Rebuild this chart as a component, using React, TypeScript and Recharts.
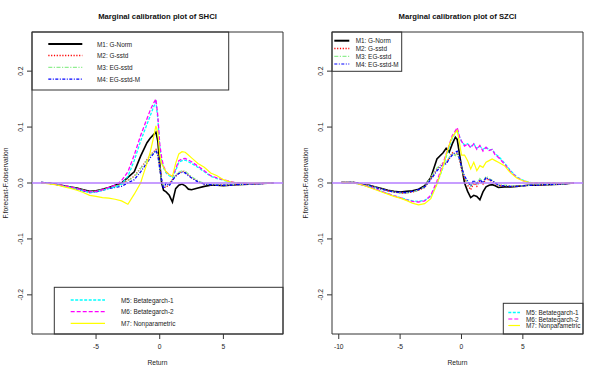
import React from 'react';
import { LineChart, Line, XAxis, YAxis, ReferenceLine, ReferenceArea } from 'recharts';

const FONT = '"Liberation Sans", Arial, Helvetica, sans-serif';

// ---------- SHCI (left panel) ----------
const SHCI_RETURN = [-9.3, -8.5, -8, -7.5, -7, -6.5, -6, -5.5, -5, -4.5, -4, -3.5, -3, -2.5, -2, -1.5, -1.25, -1, -0.75, -0.5, -0.3, -0.15, 0, 0.15, 0.3, 0.5, 0.75, 1, 1.25, 1.5, 1.75, 2, 2.25, 2.5, 3, 3.5, 4, 4.5, 5, 5.5, 6, 7, 8, 8.95];
const SHCI_M1 = [0.001, -0.001, -0.003, -0.005, -0.007, -0.009, -0.012, -0.015, -0.014, -0.011, -0.008, -0.004, 0.0, 0.01, 0.02, 0.048, 0.06, 0.072, 0.08, 0.086, 0.091, 0.075, 0.035, 0.0, -0.013, -0.016, -0.022, -0.034, -0.01, -0.004, -0.002, -0.005, -0.011, -0.012, -0.009, -0.006, -0.004, -0.004, -0.005, -0.004, -0.003, -0.002, -0.001, 0.0];
const SHCI_M2 = [0.001, -0.001, -0.003, -0.005, -0.008, -0.01, -0.013, -0.016, -0.015, -0.012, -0.009, -0.005, -0.002, 0.005, 0.012, 0.027, 0.034, 0.042, 0.05, 0.055, 0.06, 0.052, 0.03, 0.005, -0.006, -0.008, -0.002, 0.006, 0.013, 0.018, 0.021, 0.02, 0.015, 0.01, 0.003, -0.002, -0.003, -0.003, -0.004, -0.004, -0.003, -0.002, -0.001, 0.0];
const SHCI_M3 = [0.001, -0.001, -0.003, -0.005, -0.008, -0.01, -0.013, -0.016, -0.015, -0.012, -0.009, -0.006, -0.003, 0.004, 0.011, 0.026, 0.033, 0.041, 0.049, 0.054, 0.058, 0.05, 0.028, 0.004, -0.005, -0.006, -0.001, 0.007, 0.014, 0.019, 0.022, 0.021, 0.016, 0.011, 0.004, -0.001, -0.003, -0.003, -0.004, -0.003, -0.003, -0.002, -0.001, 0.0];
const SHCI_M4 = [0.001, -0.001, -0.003, -0.006, -0.008, -0.011, -0.014, -0.017, -0.016, -0.013, -0.01, -0.008, -0.006, 0.0, 0.006, 0.02, 0.028, 0.036, 0.045, 0.052, 0.058, 0.05, 0.025, 0.006, -0.01, 0.0, -0.005, 0.005, 0.012, 0.017, 0.019, 0.018, 0.013, 0.009, 0.002, -0.002, -0.003, -0.004, -0.004, -0.004, -0.003, -0.002, -0.001, 0.0];
const SHCI_M5 = [0.001, -0.001, -0.003, -0.006, -0.008, -0.011, -0.014, -0.017, -0.016, -0.013, -0.01, -0.007, -0.002, 0.012, 0.04, 0.075, 0.09, 0.105, 0.12, 0.135, 0.145, 0.115, 0.065, 0.04, 0.027, 0.018, 0.013, 0.01, 0.022, 0.037, 0.04, 0.041, 0.038, 0.035, 0.028, 0.02, 0.012, 0.008, 0.005, 0.002, 0.0, -0.001, -0.001, 0.0];
const SHCI_M6 = [0.001, -0.001, -0.003, -0.005, -0.007, -0.01, -0.013, -0.016, -0.015, -0.012, -0.008, -0.004, 0.004, 0.02, 0.05, 0.085, 0.1, 0.115, 0.13, 0.142, 0.15, 0.12, 0.07, 0.045, 0.03, 0.02, 0.015, 0.012, 0.025, 0.04, 0.043, 0.044, 0.041, 0.038, 0.03, 0.022, 0.013, 0.009, 0.006, 0.003, 0.0, -0.001, -0.001, 0.0];
const SHCI_M7 = [0.0, -0.002, -0.004, -0.007, -0.0095, -0.013, -0.017, -0.022, -0.024, -0.026, -0.027, -0.029, -0.032, -0.038, -0.02, 0.0, 0.018, 0.035, 0.055, 0.08, 0.102, 0.09, 0.05, 0.035, 0.028, 0.02, 0.015, 0.012, 0.035, 0.052, 0.056, 0.055, 0.05, 0.045, 0.035, 0.028, 0.018, 0.013, 0.006, 0.002, 0.0, 0.0, 0.0, 0.0];

// ---------- SZCI (right panel) ----------
const SZCI_RETURN = [-9.78, -8.7, -8, -7.5, -7, -6.5, -6, -5.5, -5, -4.5, -4, -3.5, -3, -2.5, -2, -1.5, -1.25, -1, -0.75, -0.5, -0.35, -0.15, 0, 0.25, 0.5, 0.75, 1, 1.25, 1.5, 1.75, 2, 2.25, 2.5, 2.75, 3, 3.5, 4, 4.5, 5, 5.5, 6, 7, 8, 9.15];
const SZCI_M1 = [0.001, 0.001, -0.003, -0.004, -0.007, -0.01, -0.013, -0.015, -0.016, -0.015, -0.014, -0.011, -0.005, 0.01, 0.043, 0.054, 0.062, 0.055, 0.07, 0.082, 0.078, 0.05, 0.03, 0.0, -0.015, -0.026, -0.022, -0.024, -0.03, -0.016, -0.007, -0.004, -0.003, -0.005, -0.008, -0.007, -0.007, -0.006, -0.005, -0.004, -0.004, -0.003, -0.002, 0.0];
const SZCI_M2 = [0.001, 0.001, -0.003, -0.005, -0.008, -0.011, -0.014, -0.016, -0.018, -0.018, -0.016, -0.013, -0.008, 0.008, 0.025, 0.036, 0.035, 0.045, 0.054, 0.05, 0.055, 0.04, 0.025, 0.008, -0.004, -0.012, 0.0, -0.006, 0.004, -0.002, 0.008, 0.005, 0.003, -0.001, -0.004, -0.005, -0.006, -0.006, -0.005, -0.004, -0.004, -0.003, -0.002, 0.0];
const SZCI_M3 = [0.001, 0.001, -0.003, -0.005, -0.008, -0.011, -0.014, -0.016, -0.018, -0.018, -0.016, -0.013, -0.007, 0.01, 0.027, 0.035, 0.037, 0.046, 0.052, 0.049, 0.054, 0.041, 0.026, 0.01, 0.0, -0.006, 0.004, -0.002, 0.008, 0.002, 0.012, 0.008, 0.005, 0.001, -0.003, -0.004, -0.005, -0.005, -0.005, -0.004, -0.003, -0.003, -0.002, 0.0];
const SZCI_M4 = [0.001, 0.001, -0.003, -0.005, -0.008, -0.011, -0.014, -0.016, -0.017, -0.017, -0.015, -0.012, -0.007, 0.006, 0.022, 0.033, 0.034, 0.043, 0.05, 0.055, 0.057, 0.043, 0.028, 0.012, 0.004, -0.005, 0.005, -0.001, 0.006, 0.0, 0.01, 0.006, 0.004, 0.0, -0.004, -0.005, -0.006, -0.006, -0.005, -0.004, -0.004, -0.003, -0.002, 0.0];
const SZCI_M5 = [0.001, 0.0, -0.004, -0.007, -0.011, -0.015, -0.019, -0.023, -0.026, -0.029, -0.032, -0.033, -0.031, -0.024, -0.002, 0.028, 0.047, 0.064, 0.08, 0.09, 0.095, 0.082, 0.074, 0.068, 0.07, 0.065, 0.07, 0.062, 0.066, 0.06, 0.064, 0.059, 0.06, 0.052, 0.048, 0.036, 0.022, 0.011, 0.005, 0.001, 0.0, 0.0, -0.001, 0.0];
const SZCI_M6 = [0.001, 0.0, -0.004, -0.007, -0.011, -0.015, -0.019, -0.023, -0.026, -0.03, -0.033, -0.034, -0.032, -0.022, 0.003, 0.035, 0.052, 0.068, 0.085, 0.093, 0.099, 0.082, 0.075, 0.066, 0.07, 0.063, 0.07, 0.06, 0.067, 0.057, 0.064, 0.058, 0.06, 0.05, 0.046, 0.034, 0.02, 0.01, 0.004, 0.001, 0.0, 0.0, -0.001, 0.0];
const SZCI_M7 = [0.001, 0.0, -0.004, -0.008, -0.012, -0.016, -0.02, -0.024, -0.027, -0.031, -0.036, -0.039, -0.037, -0.028, -0.002, 0.03, 0.05, 0.068, 0.082, 0.09, 0.094, 0.07, 0.05, 0.05, 0.04, 0.025, 0.037, 0.022, 0.031, 0.028, 0.037, 0.04, 0.043, 0.04, 0.037, 0.031, 0.018, 0.009, 0.004, 0.001, 0.0, 0.0, 0.0, 0.0];

const Y_TICKS = [-0.2, -0.1, 0, 0.1, 0.2];
const SHCI_X_TICKS = [-5, 0, 5];
const SZCI_X_TICKS = [-10, -5, 0, 5];

const SERIES_NAMES = ['M1: G-Norm', 'M2: G-sstd', 'M3: EG-sstd', 'M4: EG-sstd-M', 'M5: Betategarch-1', 'M6: Betategarch-2', 'M7: Nonparametric'];
const KEYS = ['m1', 'm2', 'm3', 'm4', 'm5', 'm6', 'm7'];

const STYLES = [
  { color: '#000000', dash: undefined as string | undefined, width: 1.6, legendWidth: 2 },
  { color: '#ff0000', dash: '1.2 1.6', width: 1.3, legendWidth: 1.5 },
  { color: '#90ee90', dash: '4 1.5 1.2 1.5', width: 1.3, legendWidth: 1.2 },
  { color: '#0000ff', dash: '3 1.5 1 1.5', width: 1.3, legendWidth: 1.2 },
  { color: '#00ffff', dash: '3 1.5', width: 1.3, legendWidth: 1.5 },
  { color: '#ff00ff', dash: '4 2', width: 1.3, legendWidth: 1.2 },
  { color: '#ffff00', dash: undefined as string | undefined, width: 1.2, legendWidth: 1.2 },
];

const FS = 6.7;
const LEGEND_FS = 6.4;

const buildRows = (xs: number[], series: number[][]) =>
  xs.map((x, i) => {
    const row: Record<string, number> = { x };
    series.forEach((s, j) => {
      row[KEYS[j]] = s[i];
    });
    return row;
  });

const YTick = (props: any) => {
  const { x, y, payload } = props;
  const cx = x - 4.5;
  return (
    <text x={cx} y={y} transform={`rotate(-90 ${cx} ${y})`} textAnchor="middle" dominantBaseline="central" fontSize={FS} fill="#222" fontFamily={FONT}>
      {Number(payload.value).toFixed(1)}
    </text>
  );
};

const XTick = (props: any) => {
  const { x, y, payload } = props;
  return (
    <text x={x} y={y + 5.5} textAnchor="middle" dominantBaseline="central" fontSize={FS} fill="#222" fontFamily={FONT}>
      {String(payload.value)}
    </text>
  );
};

type LegendGroup = {
  items: number[];
  box: [number, number, number, number];
  rows: number[];
  sample: [number, number];
  textX: number;
};

type PanelProps = {
  title: string;
  xs: number[];
  series: number[][];
  xDomain: [number, number];
  xTicks: number[];
  legends: LegendGroup[];
};

const Y_DOMAIN: [number, number] = [-0.27, 0.27];

const Panel = ({ title, xs, series, xDomain, xTicks, legends }: PanelProps) => {
  const rows = buildRows(xs, series);
  return (
    <div style={{ position: 'relative', width: 300, height: 375 }}>
      <LineChart width={300} height={375} data={rows} margin={{ top: 32, right: 17, bottom: 0, left: 0 }}>
        <XAxis
          type="number"
          dataKey="x"
          domain={xDomain}
          allowDataOverflow
          ticks={xTicks}
          interval={0}
          height={41}
          tickSize={5}
          tickMargin={2}
          axisLine={false}
          tickLine={{ stroke: '#333', strokeWidth: 1 }}
          tick={<XTick />}
        />
        <YAxis
          type="number"
          domain={Y_DOMAIN}
          allowDataOverflow
          ticks={Y_TICKS}
          interval={0}
          width={32}
          tickSize={5}
          tickMargin={2}
          axisLine={false}
          tickLine={{ stroke: '#333', strokeWidth: 1 }}
          tick={<YTick />}
        />
        {KEYS.map((k, j) => (
          <Line
            key={k}
            type="linear"
            dataKey={k}
            stroke={STYLES[j].color}
            strokeWidth={STYLES[j].width}
            strokeDasharray={STYLES[j].dash}
            dot={false}
            activeDot={false}
            isAnimationActive={false}
          />
        ))}
        <ReferenceLine y={0} stroke="#b57cff" strokeWidth={1.5} ifOverflow="extendDomain" />
        <ReferenceArea x1={xDomain[0]} x2={xDomain[1]} y1={Y_DOMAIN[0]} y2={Y_DOMAIN[1]} fill="none" fillOpacity={0} stroke="#333" strokeWidth={1} ifOverflow="visible" />
      </LineChart>
      <svg width={300} height={375} style={{ position: 'absolute', left: 0, top: 0, pointerEvents: 'none' }}>
        <text x={157.5} y={16} textAnchor="middle" dominantBaseline="central" fontSize={7.7} fontWeight="bold" fill="#111" fontFamily={FONT}>
          {title}
        </text>
        <text x={157.5} y={362} textAnchor="middle" dominantBaseline="central" fontSize={FS} fill="#222" fontFamily={FONT}>
          Return
        </text>
        <text x={5} y={183} transform="rotate(-90 5 183)" textAnchor="middle" dominantBaseline="central" fontSize={FS} fill="#222" fontFamily={FONT}>
          F.forecast-F.observation
        </text>
        {legends.map((g, gi) => (
          <g key={gi}>
            <rect x={g.box[0]} y={g.box[1]} width={g.box[2]} height={g.box[3]} fill="none" stroke="#333" strokeWidth={1} />
            {g.items.map((idx, r) => (
              <g key={idx}>
                <line
                  x1={g.sample[0]}
                  x2={g.sample[1]}
                  y1={g.rows[r]}
                  y2={g.rows[r]}
                  stroke={STYLES[idx].color}
                  strokeWidth={STYLES[idx].legendWidth}
                  strokeDasharray={STYLES[idx].dash}
                />
                <text x={g.textX} y={g.rows[r]} dominantBaseline="central" fontSize={LEGEND_FS} fill="#222" fontFamily={FONT}>
                  {SERIES_NAMES[idx]}
                </text>
              </g>
            ))}
          </g>
        ))}
      </svg>
    </div>
  );
};

const SHCI_LEGENDS: LegendGroup[] = [
  { items: [0, 1, 2, 3], box: [32, 32, 196.7, 58], rows: [44, 55.5, 67.3, 79.2], sample: [48.3, 82.3], textX: 97 },
  { items: [4, 5, 6], box: [54.3, 287.3, 228.7, 46.7], rows: [300, 311.7, 323.3], sample: [70.7, 105], textX: 121 },
];

const SZCI_LEGENDS: LegendGroup[] = [
  { items: [0, 1, 2, 3], box: [32, 32, 69.7, 39.3], rows: [40.7, 48.5, 56.3, 64], sample: [34.3, 49.3], textX: 55.7 },
  { items: [4, 5, 6], box: [203.3, 303.3, 79.7, 30.7], rows: [312.5, 319, 325.5], sample: [208.3, 220], textX: 226 },
];

export default function App() {
  return (
    <div style={{ position: 'absolute', left: 0, top: 0, width: 600, height: 375, background: '#fff', display: 'flex' }}>
      <Panel
        title="Marginal calibration plot of SHCI"
        xs={SHCI_RETURN}
        series={[SHCI_M1, SHCI_M2, SHCI_M3, SHCI_M4, SHCI_M5, SHCI_M6, SHCI_M7]}
        xDomain={[-10.03, 9.68]}
        xTicks={SHCI_X_TICKS}
        legends={SHCI_LEGENDS}
      />
      <Panel
        title="Marginal calibration plot of SZCI"
        xs={SZCI_RETURN}
        series={[SZCI_M1, SZCI_M2, SZCI_M3, SZCI_M4, SZCI_M5, SZCI_M6, SZCI_M7]}
        xDomain={[-10.55, 9.9]}
        xTicks={SZCI_X_TICKS}
        legends={SZCI_LEGENDS}
      />
    </div>
  );
}
